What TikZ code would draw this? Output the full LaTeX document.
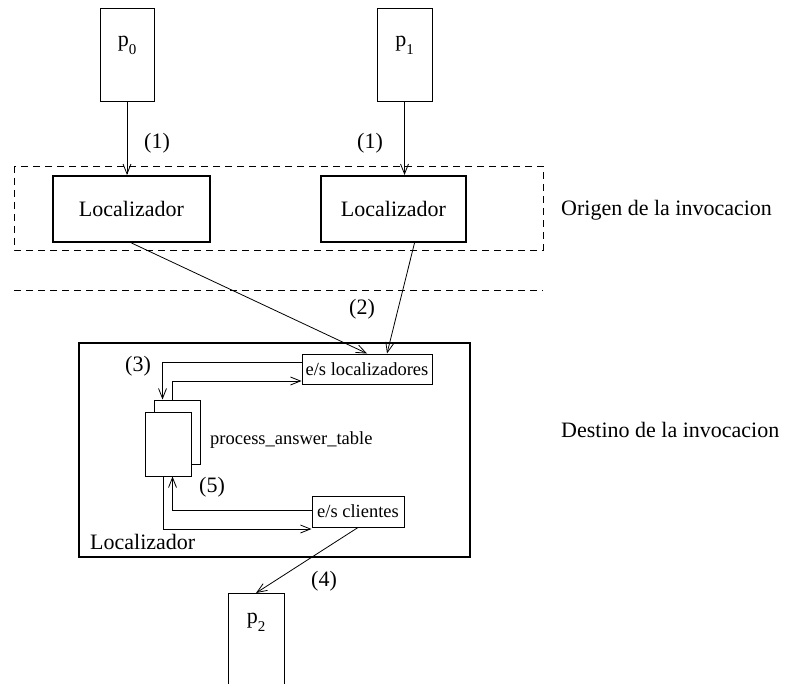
\documentclass[tikz,border=0pt]{standalone}
\usepackage{fontspec}
\setmainfont{Liberation Serif}
\usetikzlibrary{arrows.meta,calc}
\newcommand{\bigtxt}{\fontsize{22}{24}\selectfont}
\newcommand{\smalltxt}{\fontsize{18.5}{20}\selectfont}
\newcommand{\sub}[1]{\raisebox{-0.8ex}{\fontsize{15}{16}\selectfont #1}}
\tikzset{
  proc/.style={draw, line width=1pt, inner sep=0pt},
  locbox/.style={draw, line width=2pt, inner sep=0pt, font=\bigtxt},
  iobox/.style={draw, line width=1pt, inner sep=0pt, font=\smalltxt},
  flow/.style={line width=0.8pt, -{Straight Barb[length=10pt,width=8pt,line width=0.8pt]}},
  tag/.style={font=\bigtxt, inner sep=0pt},
  note/.style={font=\bigtxt, inner sep=0pt, anchor=west},
  dashline/.style={line width=0.9pt, dash pattern=on 7pt off 5pt}
}
\begin{document}
\begin{tikzpicture}[x=1pt, y=-1pt]
\useasboundingbox (0,0) rectangle (786,684);
\clip (0,0) rectangle (786,684);

% caller processes
\node[proc, minimum width=54pt, minimum height=93pt] (p0) at (127,55.5) {};
\node[proc, minimum width=55pt, minimum height=93pt] (p1) at (404.5,55.5) {};
\node[tag] (p0t) at (127,45) {p\sub{0}};
\node[tag] (p1t) at (404.5,45) {p\sub{1}};

% origin side
\draw[dashline] (14,166) rectangle (543,250);
\draw[dashline] (14,290) -- (543,290);
\node[locbox, minimum width=157pt, minimum height=66pt] (loc0) at (131.5,209) {Localizador};
\node[locbox, minimum width=145pt, minimum height=66pt] (loc1) at (393.5,209) {Localizador};

\draw[flow] (p0.south) -- (p0.south |- loc0.north);
\draw[flow] (p1.south) -- (p1.south |- loc1.north);
\node[tag] (l1a) at (157,143) {(1)};
\node[tag] (l1b) at (370,143) {(1)};

% destination locator
\node[draw, line width=2pt, minimum width=391pt, minimum height=214pt, inner sep=0pt] (dest) at (274.5,450) {};
\node[note] (destname) at (90,542) {Localizador};

\node[iobox, minimum width=130pt, minimum height=30pt] (esloc) at (367,369) {e/s localizadores};
\node[iobox, minimum width=92pt, minimum height=31pt] (escli) at (358,511.5) {e/s clientes};

% process_answer_table (stacked pages)
\node[proc, minimum width=46pt, minimum height=64pt] (patb) at (177,432) {};
\node[proc, fill=white, minimum width=46pt, minimum height=64pt] (patf) at (168,444) {};
\node[font=\smalltxt, inner sep=0pt, anchor=west] (patname) at (210,440) {process\_answer\_table};

% incoming requests
\draw[flow] (loc0.south) -- (esloc.north);
\draw[flow] ($(loc1.south)+(21,0)$) -- ($(esloc.north)+(20,0)$);
\node[tag] (l2) at (362,309) {(2)};

% table <-> locators
\draw[flow] ($(esloc.west)+(0,-7)$) -| ($(patb.north west)+(9,0)$);
\draw[flow] ($(patb.north west)+(19,0)$) |- ($(esloc.west)+(0,12)$);
\node[tag] (l3) at (138,366) {(3)};

% table <-> clients
\draw[flow] ($(escli.west)+(0,-1.5)$) -| ($(patf.south west)+(28,0)$);
\draw[flow] ($(patf.south west)+(19,0)$) |- ($(escli.west)+(0,17.5)$);
\node[tag] (l5) at (212,487) {(5)};

% reply to client
\node[proc, anchor=north, minimum width=56pt, minimum height=130pt] (p2) at (256,593) {};
\node[tag] (p2t) at (256,622) {p\sub{2}};
\draw[flow] (escli.south) -- (p2.north);
\node[tag] (l4) at (324,581) {(4)};

% side captions
\node[note] (orig) at (561,210) {Origen de la invocacion};
\node[note] (dst) at (561,430) {Destino de la invocacion};
\end{tikzpicture}
\end{document}
